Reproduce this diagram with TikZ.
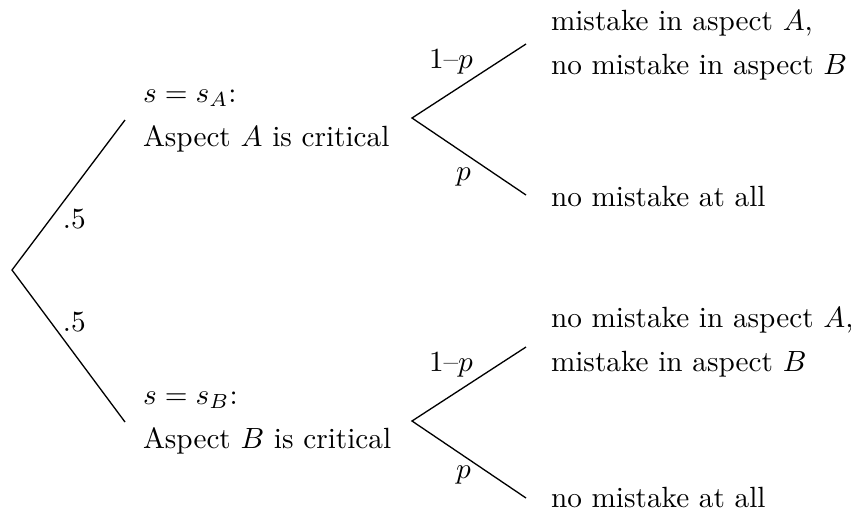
\documentclass[tikz,border=0pt]{standalone}
\begin{document}
\begin{tikzpicture}[x=0.342pt,y=-0.342pt,
  lbl/.style={anchor=base west,inner sep=0pt,outer sep=0pt},
  edge/.style={line width=0.45pt}]
\useasboundingbox (0,0) rectangle (851,511);
% tree points
\coordinate (r) at (12,270);
\coordinate (a) at (125,120);
\coordinate (b) at (125,422);
\coordinate (av) at (412,118);
\coordinate (a1) at (526,44);
\coordinate (a2) at (526,195);
\coordinate (bv) at (412,421);
\coordinate (b1) at (526,347);
\coordinate (b2) at (526,498);
\draw[edge] (a) -- (r) -- (b);
\draw[edge] (a1) -- (av) -- (a2);
\draw[edge] (b1) -- (bv) -- (b2);
% probabilities
\node[lbl] (pa) at (63,228) {.5};
\node[lbl] (pb) at (63,331) {.5};
\node[lbl] (qa1) at (429,68) {1--$p$};
\node[lbl] (qa2) at (456,180) {$p$};
\node[lbl] (qb1) at (429,371) {1--$p$};
\node[lbl] (qb2) at (456,478) {$p$};
% state labels
\node[lbl] (sa1) at (143,102) {$s=s_A$:};
\node[lbl] (sa2) at (143,146) {Aspect $A$ is critical};
\node[lbl] (sb1) at (143,404) {$s=s_B$:};
\node[lbl] (sb2) at (143,448) {Aspect $B$ is critical};
% outcomes
\node[lbl] (oa1) at (551,30) {mistake in aspect $A$,};
\node[lbl] (oa2) at (551,74) {no mistake in aspect $B$};
\node[lbl] (oa3) at (551,206) {no mistake at all};
\node[lbl] (ob1) at (551,327) {no mistake in aspect $A$,};
\node[lbl] (ob2) at (551,371) {mistake in aspect $B$};
\node[lbl] (ob3) at (551,507) {no mistake at all};
\end{tikzpicture}
\end{document}
